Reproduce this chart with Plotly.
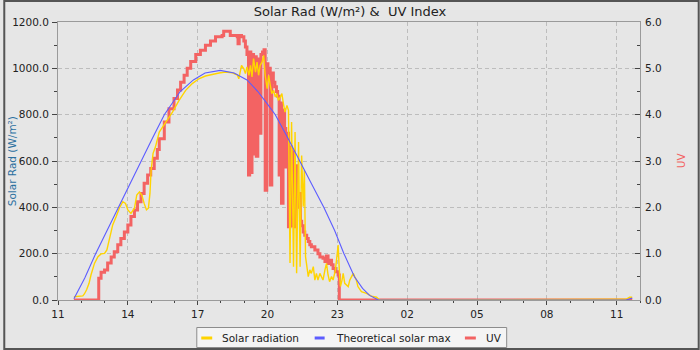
import plotly.graph_objects as go
from datetime import datetime, timedelta

# ---- data -------------------------------------------------------------
# times are local HH:MM; a time earlier than the previous one rolls to the next day
solar_times = [
    "11:41", "12:04", "12:08", "12:14", "12:20", "12:25", "12:34", "12:43", "12:51", "13:00",
    "13:06", "13:13", "13:21", "13:30", "13:38", "13:47", "13:54", "14:00", "14:08", "14:17",
    "14:23", "14:30", "14:36", "14:42", "14:48", "14:53", "14:57", "15:00", "15:05", "15:11",
    "15:21", "15:38", "15:55", "16:12", "16:29", "16:46", "17:03", "17:20", "17:37", "17:55",
    "18:12", "18:29", "18:36", "18:42", "18:46", "18:53", "18:59", "19:03", "19:07", "19:12",
    "19:16", "19:20", "19:24", "19:29", "19:33", "19:37", "19:41", "19:46", "19:50", "19:54",
    "19:59", "20:03", "20:07", "20:11", "20:16", "20:20", "20:24", "20:28", "20:33", "20:37",
    "20:41", "20:45", "20:50", "20:54", "20:58", "21:02", "21:07", "21:11", "21:15", "21:20",
    "21:24", "21:28", "21:32", "21:35", "21:38", "21:41", "21:45", "21:49", "21:53", "21:58",
    "22:02", "22:06", "22:10", "22:15", "22:19", "22:23", "22:28", "22:32", "22:36", "22:40",
    "22:45", "22:49", "22:55", "22:58", "23:02", "23:05", "23:08", "23:12", "23:15", "23:19",
    "23:28", "23:32", "23:41", "23:45", "23:49", "23:53", "00:02", "00:15", "00:28", "00:41",
    "00:49", "11:24", "11:28", "11:33", "11:40",
]
solar_values = [
    14, 18, 26, 45, 72, 108, 158, 187, 199, 201,
    216, 273, 324, 360, 396, 424, 417, 389, 374, 396,
    453, 467, 453, 417, 389, 396, 460, 561, 633, 660,
    725, 768, 811, 862, 905, 934, 955, 967, 974, 980,
    984, 981, 975, 972, 955, 1013, 998, 977, 1006, 970,
    1013, 963, 1042, 984, 1027, 970, 1013, 1027, 1056, 970,
    912, 970, 927, 891, 905, 876, 891, 862, 876, 891,
    847, 811, 840, 819, 160, 768, 144, 725, 115, 682,
    144, 624, 403, 561, 187, 144, 101, 130, 115, 144,
    86, 115, 86, 115, 101, 86, 130, 158, 108, 79,
    101, 86, 130, 187, 237, 130, 58, 86, 115, 72,
    58, 86, 115, 100, 86, 58, 36, 29, 17, 12,
    0, 3, 8, 12, 12,
]

theory_times = [
    "11:41", "12:09", "12:37", "13:06", "13:36", "14:05", "14:33", "15:04", "15:34", "15:55",
    "16:15", "16:49", "17:19", "17:58", "18:34", "19:07", "19:35", "19:58", "20:20", "20:52",
    "21:24", "21:54", "22:25", "22:53", "23:17", "23:44", "00:05", "00:23", "00:46", "11:24",
    "11:32", "11:40",
]
theory_values = [
    5, 95, 200, 300, 400, 500, 600, 700, 800, 850,
    900, 950, 980, 991, 980, 950, 900, 850, 800, 700,
    600, 500, 400, 300, 200, 100, 50, 20, 0, 0,
    4, 8,
]

uv_times = [
    "11:41", "12:45", "12:51", "13:00", "13:08", "13:17", "13:25", "13:34", "13:42", "13:51",
    "14:00", "14:08", "14:17", "14:25", "14:34", "14:42", "14:51", "14:59", "15:08", "15:16",
    "15:21", "15:34", "15:46", "15:59", "16:08", "16:16", "16:25", "16:33", "16:42", "16:55",
    "17:07", "17:20", "17:33", "17:46", "18:03", "18:07", "18:24", "18:42", "18:44", "18:47",
    "18:53", "18:59", "19:03", "19:07", "19:11", "19:14", "19:17", "19:20", "19:24", "19:28",
    "19:31", "19:35", "19:39", "19:43", "19:47", "19:51", "19:54", "19:58", "20:01", "20:05",
    "20:07", "20:11", "20:15", "20:19", "20:23", "20:26", "20:30", "20:33", "20:36", "20:40",
    "20:44", "20:47", "20:50", "20:54", "20:58", "21:02", "21:05", "21:09", "21:13", "21:17",
    "21:21", "21:25", "21:28", "21:32", "21:36", "21:41", "21:45", "21:49", "21:53", "22:02",
    "22:10", "22:15", "22:23", "22:28", "22:32", "22:36", "22:40", "22:45", "22:49", "22:55",
    "23:02", "23:05", "11:40",
]
uv_values = [
    0.0, 0.47, 0.6, 0.65, 0.8, 0.93, 1.04, 1.19, 1.33, 1.47,
    1.62, 1.8, 1.94, 2.12, 2.3, 2.52, 2.7, 2.84, 3.06, 3.25,
    3.48, 3.84, 4.13, 4.35, 4.53, 4.7, 4.85, 5.0, 5.15, 5.3,
    5.39, 5.5, 5.59, 5.68, 5.71, 5.8, 5.71, 5.68, 5.53, 5.71,
    5.68, 5.59, 5.46, 5.3, 2.7, 5.35, 2.75, 5.3, 3.15, 5.25,
    3.1, 5.2, 3.6, 5.3, 5.35, 5.4, 2.37, 5.1, 4.9, 5.0,
    2.48, 4.9, 4.7, 4.6, 4.5, 4.4, 2.7, 4.25, 2.09, 4.1,
    3.7, 2.87, 3.6, 1.58, 3.3, 1.6, 3.2, 1.58, 2.9, 2.0,
    2.3, 1.7, 1.6, 1.47, 1.4, 1.33, 1.26, 1.19, 1.15, 1.08,
    1.0, 0.93, 0.9, 0.83, 0.95, 0.79, 0.86, 0.76, 0.68, 0.61,
    0.54, 0.0, 0.0,
]

START_DAY = datetime(2024, 6, 20)


def to_stamps(times):
    stamps, day, prev = [], 0, None
    for t in times:
        h, m = map(int, t.split(":"))
        mins = h * 60 + m
        if prev is not None and mins < prev:
            day += 1
        prev = mins
        stamps.append(START_DAY + timedelta(days=day, minutes=mins))
    return stamps


# ---- styling ----------------------------------------------------------
W, H = 700, 350
ML, MR, MT, MB = 55, 60, 22, 50
PW, PH = W - ML - MR, H - MT - MB

SOLAR_COLOR = "#ffd400"
THEORY_COLOR = "#5c5cff"
UV_COLOR = "#f36363"
BG = "#e6e6e6"
FONT = "DejaVu Sans"
TXT = "#222222"
GRID = "#bdbdbd"
AXIS = "#9a9a9a"


def px(x):
    return (x - ML) / PW


def py(y):
    return (MT + PH - y) / PH


fig = go.Figure()
fig.add_trace(go.Scatter(
    x=to_stamps(uv_times), y=uv_values, name="UV", mode="lines",
    line=dict(color=UV_COLOR, width=3, shape="hv"), yaxis="y", showlegend=False,
))
fig.add_trace(go.Scatter(
    x=to_stamps(solar_times), y=solar_values, name="Solar radiation", mode="lines",
    line=dict(color=SOLAR_COLOR, width=1.4), yaxis="y2", showlegend=False,
))
fig.add_trace(go.Scatter(
    x=to_stamps(theory_times), y=theory_values, name="Theoretical solar max", mode="lines",
    line=dict(color=THEORY_COLOR, width=1.1), yaxis="y2", showlegend=False,
))

tickfont = dict(family=FONT, size=10.5, color=TXT)

fig.update_layout(
    width=W, height=H,
    margin=dict(l=ML, r=MR, t=MT, b=MB),
    paper_bgcolor=BG, plot_bgcolor=BG,
    font=dict(family=FONT, color=TXT),
    title=dict(text="Solar Rad (W/m²) & \u00a0UV Index", x=0.5, xanchor="center",
               y=1 - 11 / H, yanchor="middle", font=dict(family=FONT, size=13, color=TXT)),
    xaxis=dict(
        type="date",
        range=[START_DAY + timedelta(hours=11), START_DAY + timedelta(hours=36)],
        tick0=START_DAY + timedelta(hours=11), dtick=3 * 3600 * 1000, tickformat="%H",
        ticks="outside", ticklen=4, tickcolor="#444", tickfont=tickfont,
        minor=dict(ticks="outside", ticklen=2, dtick=3600 * 1000, tickcolor="#444", showgrid=False),
        showline=True, linecolor=AXIS, mirror=True,
        showgrid=True, gridcolor=GRID, griddash="4px,3px", zeroline=False,
        layer="below traces",
    ),
    yaxis=dict(
        side="right", range=[0, 6], dtick=1, tickformat=".1f",
        ticks="inside", ticklen=5, tickcolor="#444", tickfont=tickfont, ticklabelstandoff=2,
        minor=dict(ticks="inside", ticklen=3, dtick=0.5, tickcolor="#444", showgrid=False),
        showline=True, linecolor=AXIS,
        showgrid=True, gridcolor=GRID, griddash="4px,3px", zeroline=False,
    ),
    yaxis2=dict(
        overlaying="y", side="left", range=[0, 1200], dtick=200, tickformat=".1f",
        ticks="outside", ticklen=5, tickcolor="#444", tickfont=tickfont, ticklabelstandoff=1,
        minor=dict(ticks="outside", ticklen=3, dtick=100, tickcolor="#444", showgrid=False),
        showline=True, linecolor=AXIS, showgrid=False, zeroline=False,
    ),
    showlegend=False,
)

# axis titles
fig.add_annotation(text="Solar Rad (W/m²)", xref="paper", yref="paper", x=px(9), y=py(161),
                   xanchor="center", yanchor="middle", textangle=-90, showarrow=False,
                   font=dict(family=FONT, size=10.5, color="#2a6f9f"))
fig.add_annotation(text="UV", xref="paper", yref="paper", x=px(681.5), y=py(160),
                   xanchor="center", yanchor="middle", textangle=-90, showarrow=False,
                   font=dict(family=FONT, size=10.5, color=UV_COLOR))

# outer frame
fig.add_shape(type="rect", xref="paper", yref="paper", x0=px(1), x1=px(699), y0=py(349), y1=py(1),
              line=dict(color="#555555", width=2), fillcolor="rgba(0,0,0,0)", layer="above")

# legend box
fig.add_shape(type="rect", xref="paper", yref="paper", x0=px(194.5), x1=px(506), y0=py(347.5), y1=py(327.5),
              line=dict(color="#8c8c8c", width=1), fillcolor="#f4f4f4", layer="above")
legend_items = [
    ("Solar radiation", SOLAR_COLOR, 199, 210, 219),
    ("Theoretical solar max", THEORY_COLOR, 313, 323, 333),
    ("UV", UV_COLOR, 464, 475, 484),
]
for label, color, lx0, lx1, tx in legend_items:
    fig.add_shape(type="line", xref="paper", yref="paper", x0=px(lx0), x1=px(lx1), y0=py(338), y1=py(338),
                  line=dict(color=color, width=3), layer="above")
    fig.add_annotation(text=label, xref="paper", yref="paper", x=px(tx - 1), y=py(337.5),
                       xanchor="left", yanchor="middle", showarrow=False,
                       font=dict(family=FONT, size=10.5, color=TXT))

fig.write_html("out.html")
